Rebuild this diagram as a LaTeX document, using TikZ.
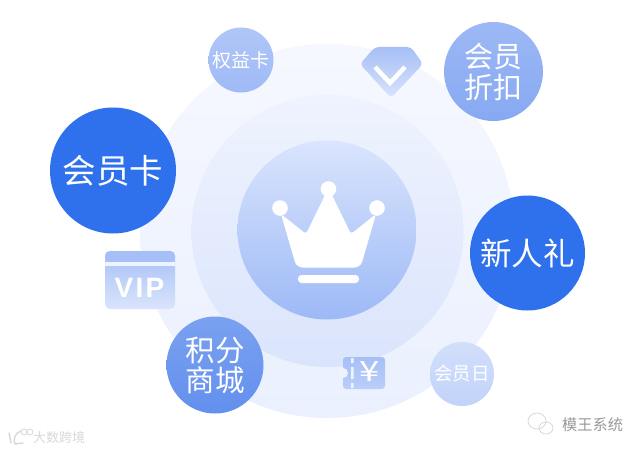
\documentclass[tikz,border=0pt]{standalone}
\usepackage{fontspec}
\newfontfamily\cjk{Noto Sans CJK SC}
\newfontfamily\vipfont[LetterSpace=8]{Liberation Sans}
\usetikzlibrary{shadings}
\definecolor{deep}{HTML}{2F71EC}
\definecolor{ringA}{HTML}{F6F8FF}
\definecolor{ringB}{HTML}{EAF0FE}
\definecolor{ringC}{HTML}{EFF3FE}
\definecolor{ringD}{HTML}{DAE4FC}
\definecolor{coreA}{HTML}{DAE5FD}
\definecolor{coreB}{HTML}{9DB9F6}
\definecolor{discA}{HTML}{9DB8F5}
\definecolor{discB}{HTML}{86A9F2}
\definecolor{mallA}{HTML}{7AA1F0}
\definecolor{mallB}{HTML}{6390EE}
\definecolor{rightA}{HTML}{B0C6F8}
\definecolor{rightB}{HTML}{9FBAF6}
\definecolor{dayA}{HTML}{D2DFFB}
\definecolor{dayB}{HTML}{C2D3FA}
\definecolor{iconA}{HTML}{A6BFF6}
\definecolor{iconB}{HTML}{D9E4FC}
\definecolor{iconC}{HTML}{BBCEF9}
\tikzset{
 x=1pt,y=-1pt,
 bubble/.style={circle,inner sep=0pt,text=white,align=center},
 wm/.style={inner sep=0pt,font=\cjk\fontsize{15.2}{15.2}\selectfont,text=gray!80},
}
\begin{document}
\begin{tikzpicture}
\useasboundingbox (0,0) rectangle (644,452);
\fill[white] (0,0) rectangle (644,452);
% rings
\node[circle,minimum size=374pt,inner sep=0pt,top color=ringA,bottom color=ringB] (outer) at (327,231) {};
\node[circle,minimum size=272pt,inner sep=0pt,top color=ringC,bottom color=ringD] (middle) at (327.5,231) {};
\node[circle,minimum size=179pt,inner sep=0pt,top color=coreA,bottom color=coreB] (inner) at (327,230) {};
% crown
\fill[white,rounded corners=3pt] (281,214) -- (306,234) -- (328.5,188) -- (351,234) -- (376,214) [rounded corners=6pt] -- (360.5,267.5) -- (296.5,267.5) [rounded corners=3pt] -- cycle;
\fill[white] (280,208) circle (7.8pt) (328.5,189) circle (7.8pt) (377,208) circle (7.8pt);
\fill[white,rounded corners=3.5pt] (298,275) rectangle (359,283);
% bubbles
\node[bubble,minimum size=126pt,fill=deep,font=\cjk\fontsize{33.5}{36}\selectfont] (card) at (113,170.5) {会员卡};
\node[bubble,minimum size=115pt,fill=deep,font=\cjk\fontsize{31.5}{34}\selectfont] (gift) at (527.5,253) {新人礼};
\node[bubble,minimum size=99pt,top color=discA,bottom color=discB,font=\cjk\fontsize{29}{31}\selectfont] (disc) at (493.5,71.5) {会员\\折扣};
\node[bubble,minimum size=97pt,top color=mallA,bottom color=mallB,font=\cjk\fontsize{29.5}{30}\selectfont] (mall) at (215,365) {积分\\商城};
\node[bubble,minimum size=65pt,top color=rightA,bottom color=rightB,font=\cjk\fontsize{19}{21}\selectfont] (right) at (241,60) {权益卡};
\node[bubble,minimum size=64pt,top color=dayA,bottom color=dayB,font=\cjk\fontsize{18.5}{20}\selectfont] (day) at (462,374) {会员日};
% VIP card
\path[top color=iconA,bottom color=coreA,rounded corners=5pt] (105,251) rectangle (175,309);
\fill[iconA,rounded corners=5pt] (105,262) -- (105,251) -- (175,251) -- (175,262) -- cycle;
\fill[ringC] (105,262) rectangle (175,265.5);
\node[inner sep=0pt,text=white,font=\vipfont\bfseries\fontsize{28}{28}\selectfont] (vip) at (139.5,288) {VIP};
% diamond
\path[top color=iconA,bottom color=iconB,rounded corners=4pt] (375,47) -- (411,47) -- (423,64) -- (391,98) -- (360,64) -- cycle;
\draw[white,line width=4.5pt] (375,67) -- (390,83) -- (405,67);
% ticket
\path[top color=iconA,bottom color=iconC,rounded corners=3pt] (343,357) rectangle (385,389);
\fill[ringC] (343,373) circle (5pt);
\fill[ringC] (351,358) rectangle (353.5,363) (351,367) rectangle (353.5,379) (351,383) rectangle (353.5,388);
\node[inner sep=0pt,text=white,xscale=1.3,font=\cjk\fontsize{28}{28}\selectfont] (yen) at (370,372) {¥};
% watermarks
\node[wm,text=gray!30,font=\cjk\fontsize{13}{13}\selectfont,anchor=west] (bigdata) at (33,438) {大数跨境};
\draw[gray!30,line width=1.5pt,line cap=round] (9,433) -- (11,443) (21,431) to[bend right=50] (15,444) -- (23,443);
\draw[gray!30,line width=.8pt] (24,432) circle (3pt) (30,432) circle (3pt);
\node[wm,anchor=west] (mowang) at (562,425) {模王系统};
\draw[gray!30,line width=.8pt] (537,421) ellipse (9pt and 8pt) (546,428) ellipse (7pt and 6pt);
\end{tikzpicture}
\end{document}
